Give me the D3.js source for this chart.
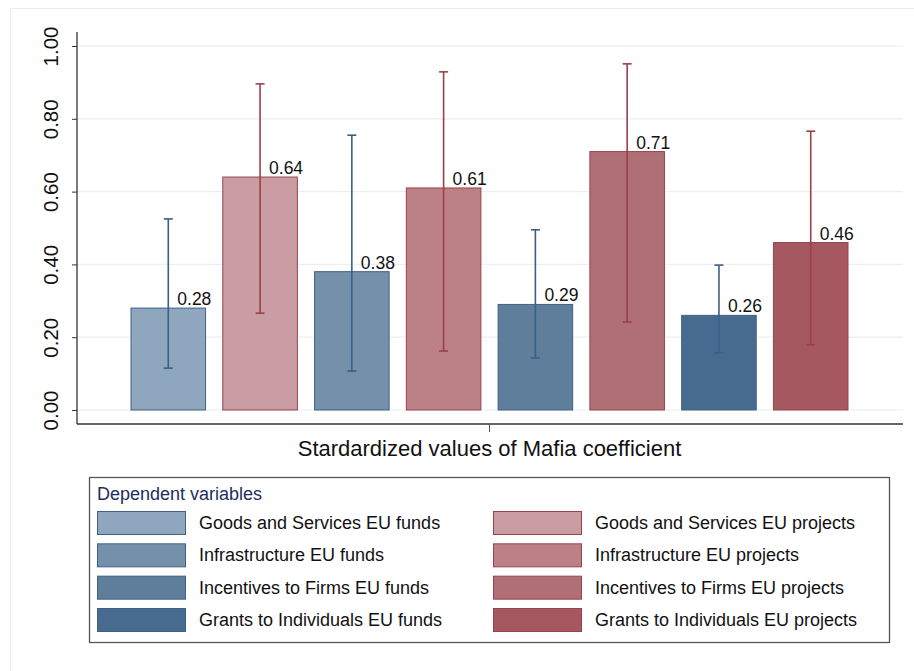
<!DOCTYPE html>
<html>
<head>
<meta charset="utf-8">
<script src="https://cdn.jsdelivr.net/npm/d3@7"></script>
<style>
  body { margin: 0; background: #fff; }
  svg { display: block; font-family: "Liberation Sans", Arial, sans-serif; }
</style>
</head>
<body>
<svg id="chart" width="914" height="671"></svg>
<script>
// Data
const labels = [
  "Goods and Services EU funds", "Goods and Services EU projects",
  "Infrastructure EU funds", "Infrastructure EU projects",
  "Incentives to Firms EU funds", "Incentives to Firms EU projects",
  "Grants to Individuals EU funds", "Grants to Individuals EU projects"
];
const values = [0.28, 0.64, 0.38, 0.61, 0.29, 0.71, 0.26, 0.46];
const lower  = [0.115, 0.266, 0.107, 0.162, 0.143, 0.242, 0.157, 0.179];
const upper  = [0.525, 0.896, 0.755, 0.929, 0.495, 0.951, 0.398, 0.766];
const yTicks = [0, 0.2, 0.4, 0.6, 0.8, 1.0];

const fills   = ["#8fa7be", "#c99da1", "#7590aa", "#bc8186", "#5e7e9b", "#b06f75", "#476b8e", "#a5585f"];
const isBlue  = i => i % 2 === 0;
const blueLine = "#3a5f85", redLine = "#9a404b";

const svg = d3.select("#chart");

// faint outer frame
svg.append("path")
  .attr("d", "M10.5,671 L10.5,8.5 L914,8.5")
  .attr("fill", "none").attr("stroke", "#ececec");

const x = d3.scaleBand().domain(d3.range(values.length)).range([131, 848])
  .paddingInner(0.1875).paddingOuter(0);
const y = d3.scaleLinear().domain([-0.0385, 1.0385]).range([424, 32]);
const plotLeft = 77, plotRight = 903;

// gridlines
svg.append("g").selectAll("line").data(yTicks).join("line")
  .attr("x1", plotLeft).attr("x2", plotRight)
  .attr("y1", d => y(d)).attr("y2", d => y(d))
  .attr("stroke", "#eaeff3").attr("stroke-width", 1.2);

// y axis
const yAxis = svg.append("g").attr("transform", `translate(${plotLeft},0)`)
  .call(d3.axisLeft(y).tickValues(yTicks).tickFormat(d3.format(".2f")).tickSize(5).tickPadding(0));
yAxis.select(".domain").attr("stroke", "#333").attr("stroke-width", 1.3).attr("d", `M0,${y.range()[0]}V${y.range()[1]}`);
yAxis.selectAll(".tick line").attr("stroke", "#333");
yAxis.selectAll(".tick text")
  .attr("x", 0).attr("dy", 0)
  .attr("transform", "translate(-27,0) rotate(-90)")
  .attr("text-anchor", "middle")
  .attr("dominant-baseline", "central")
  .attr("font-size", 20.5).attr("fill", "#111");

// x axis line + centre tick
svg.append("line").attr("x1", plotLeft).attr("x2", plotRight)
  .attr("y1", y.range()[0]).attr("y2", y.range()[0])
  .attr("stroke", "#333").attr("stroke-width", 1.3);
const midX = (x(3) + x.bandwidth() + x(4)) / 2;
svg.append("line").attr("x1", midX).attr("x2", midX)
  .attr("y1", 424).attr("y2", 432).attr("stroke", "#555");
svg.append("text").attr("x", midX).attr("y", 456)
  .attr("text-anchor", "middle").attr("font-size", 22).attr("fill", "#111")
  .text("Stardardized values of Mafia coefficient");

// bars
svg.append("g").selectAll("rect").data(values).join("rect")
  .attr("x", (d, i) => x(i)).attr("width", x.bandwidth())
  .attr("y", d => y(d)).attr("height", d => y(0) - y(d))
  .attr("fill", (d, i) => fills[i])
  .attr("stroke", (d, i) => isBlue(i) ? "#3f6184" : "#99424c")
  .attr("stroke-width", 1);

// error bars
const eb = svg.append("g").selectAll("g").data(values).join("g")
  .attr("stroke", (d, i) => isBlue(i) ? blueLine : redLine)
  .attr("stroke-width", 1.6);
eb.append("line")
  .attr("x1", (d, i) => x(i) + x.bandwidth() / 2).attr("x2", (d, i) => x(i) + x.bandwidth() / 2)
  .attr("y1", (d, i) => y(lower[i])).attr("y2", (d, i) => y(upper[i]));
eb.append("line")
  .attr("x1", (d, i) => x(i) + x.bandwidth() / 2 - 4.5).attr("x2", (d, i) => x(i) + x.bandwidth() / 2 + 4.5)
  .attr("y1", (d, i) => y(upper[i])).attr("y2", (d, i) => y(upper[i]));
eb.append("line")
  .attr("x1", (d, i) => x(i) + x.bandwidth() / 2 - 4.5).attr("x2", (d, i) => x(i) + x.bandwidth() / 2 + 4.5)
  .attr("y1", (d, i) => y(lower[i])).attr("y2", (d, i) => y(lower[i]));

// value labels
svg.append("g").selectAll("text").data(values).join("text")
  .attr("x", (d, i) => x(i) + x.bandwidth() / 2 + 9)
  .attr("y", d => y(d) - 3)
  .attr("font-size", 17.5).attr("fill", "#111")
  .text(d => d3.format(".2f")(d));

// legend
const legend = svg.append("g");
legend.append("rect").attr("x", 89.5).attr("y", 477.5).attr("width", 800).attr("height", 165)
  .attr("fill", "#fff").attr("stroke", "#555").attr("stroke-width", 1.3);
legend.append("text").attr("x", 97).attr("y", 500).attr("font-size", 18).attr("fill", "#1f2d5c")
  .text("Dependent variables");
const rowY = d3.scalePoint().domain(d3.range(4)).range([511, 608]);
labels.forEach((lab, i) => {
  const col = i % 2, row = Math.floor(i / 2);
  const sx = col === 0 ? 97.5 : 493.5;
  const tx = col === 0 ? 199 : 595;
  legend.append("rect").attr("x", sx).attr("y", rowY(row) + 0.5)
    .attr("width", 88).attr("height", 23)
    .attr("fill", fills[i]).attr("stroke", col === 0 ? "#3f6184" : "#99424c");
  legend.append("text").attr("x", tx).attr("y", rowY(row) + 18)
    .attr("font-size", 18).attr("fill", "#111").text(lab);
});
</script>
</body>
</html>
